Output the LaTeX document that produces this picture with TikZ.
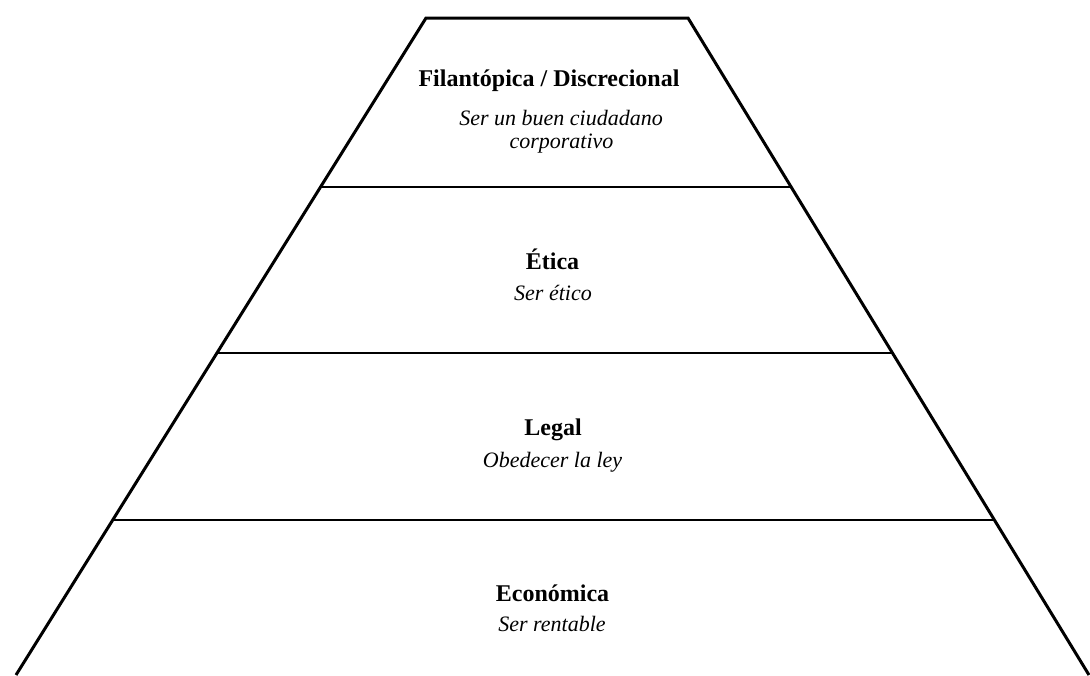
\documentclass[tikz,border=0pt]{standalone}
\usepackage{fontspec}
\setmainfont{Liberation Serif}
\begin{document}
\begin{tikzpicture}[x=0.5pt,y=-0.5pt,
  outline/.style={line width=1.5pt,line join=miter},
  divider/.style={line width=1pt},
  level/.style={anchor=base,font=\fontsize{12}{14}\selectfont\bfseries,inner sep=0pt},
  motto/.style={anchor=base,font=\fontsize{11}{12.5}\selectfont\itshape,inner sep=0pt}]
\useasboundingbox (0,0) rectangle (1090,675);
% outline of the pyramid (open at the bottom)
\coordinate (tl) at (426,18);
\coordinate (tr) at (688,18);
\coordinate (bl) at (16,675);
\coordinate (br) at (1089,675);
\draw[outline] (bl) -- (tl) -- (tr) -- (br);
% level dividers
\coordinate (d1l) at (320.5,187); \coordinate (d1r) at (791,187);
\coordinate (d2l) at (217,353);   \coordinate (d2r) at (892,353);
\coordinate (d3l) at (113,520);   \coordinate (d3r) at (994,520);
\draw[divider] (d1l) -- (d1r);
\draw[divider] (d2l) -- (d2r);
\draw[divider] (d3l) -- (d3r);
% labels
\node[level] (fil) at (549,86.5) {Filantópica / Discrecional};
\node[motto] (fil1) at (561,125) {Ser un buen ciudadano};
\node[motto] (fil2) at (561.5,148) {corporativo};
\node[level] (eti) at (552.5,269) {Ética};
\node[motto] (eti1) at (553,300) {Ser ético};
\node[level] (leg) at (553,435) {Legal};
\node[motto] (leg1) at (552.5,467) {Obedecer la ley};
\node[level] (eco) at (552.5,601) {Económica};
\node[motto] (eco1) at (552,631) {Ser rentable};
\end{tikzpicture}
\end{document}
